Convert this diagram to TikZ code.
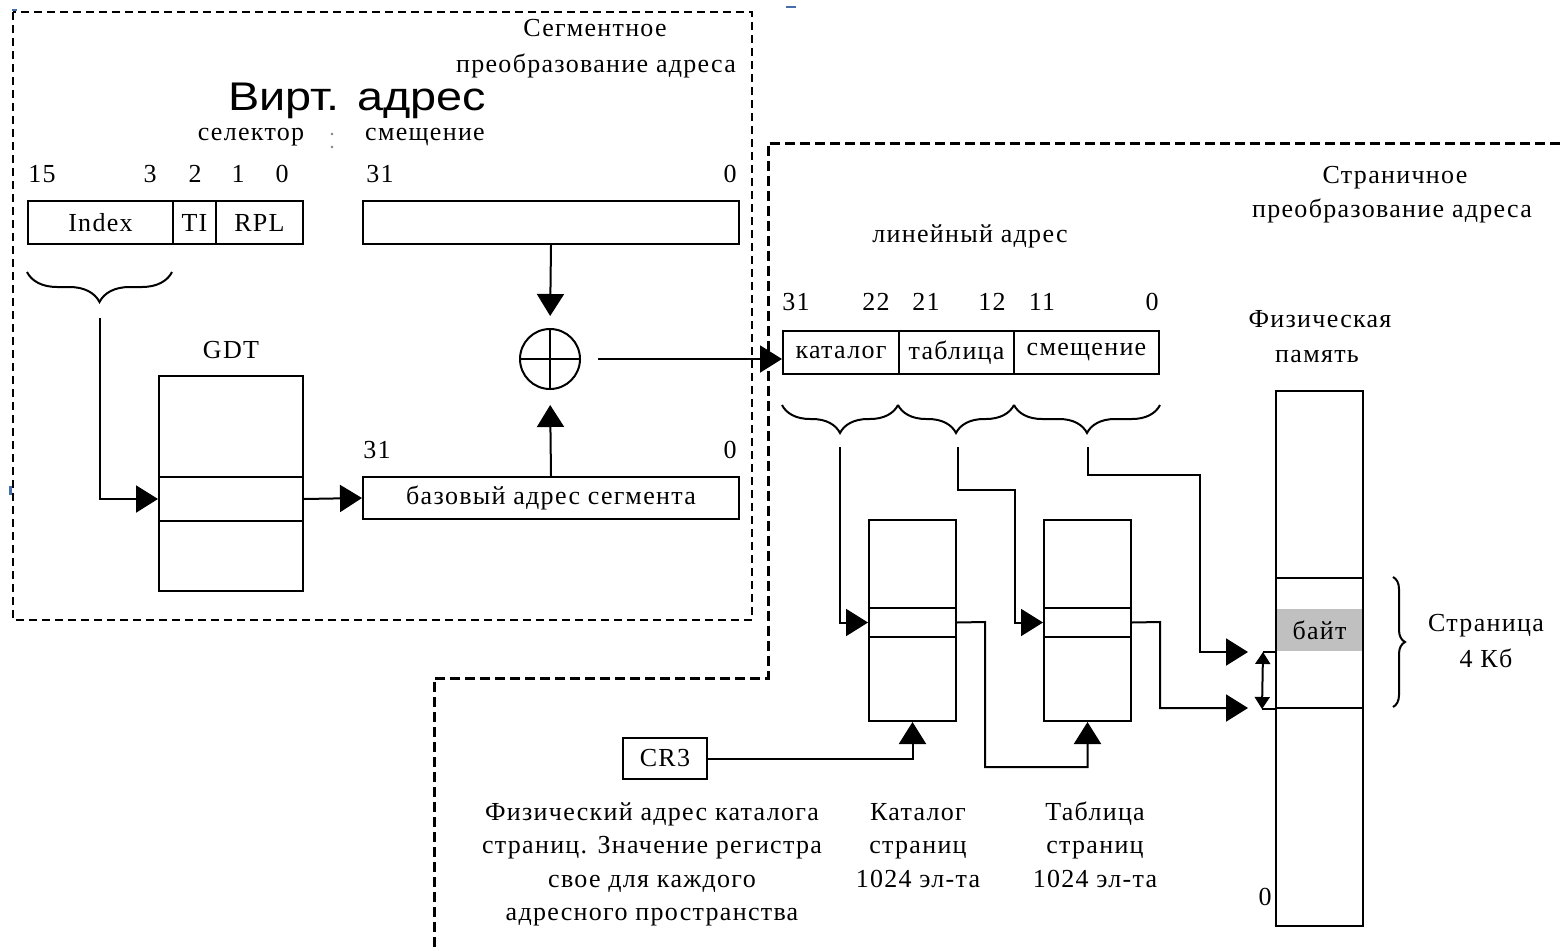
\documentclass[tikz,border=0pt]{standalone}
\usepackage{fontspec}
\setmainfont{Liberation Serif}[LetterSpace=5.0]
\newfontfamily\arialf{Liberation Sans}
\usetikzlibrary{arrows.meta,decorations.pathreplacing,calc}
\definecolor{bytegray}{RGB}{192,192,192}
\definecolor{markblue}{RGB}{70,110,170}
\begin{document}
\begin{tikzpicture}[x=1pt,y=-1pt,
  box/.style={draw, line width=2pt, inner sep=0pt, anchor=north west, font=\fontsize{26}{30}\selectfont},
  lbl/.style={inner sep=0pt, anchor=base, font=\fontsize{26}{30}\selectfont},
  conn/.style={line width=2pt},
  arr/.style={line width=2pt, -{Triangle[length=22pt,width=27pt]}},
  dblarr/.style={line width=2pt, {Triangle[length=12pt,width=15pt]}-{Triangle[length=12pt,width=15pt]}},
  segline/.style={line width=1.5pt, dash pattern=on 8pt off 5pt},
  pagline/.style={line width=3pt, dash pattern=on 10pt off 5pt},
  bracedeco/.style={line width=2pt, decorate, decoration={brace, amplitude=#1}},
]
\useasboundingbox (0,0) rectangle (1560,950);
\fill[white] (0,0) rectangle (1560,950);

% dashed regions
\draw[segline] (13,12) rectangle (752,620);
\draw[pagline] (1560,143) -- (768,143) -- (768,678) -- (434,678) -- (434,950);
\fill[markblue] (12,9) rectangle (17,11);
\fill[markblue] (9,486) rectangle (12,495);
\fill[markblue] (786,6) rectangle (796,8);

% segment part texts
\node[lbl] (segt1) at (595,37) {Сегментное};
\node[lbl] (segt2) at (596,72) {преобразование адреса};
\node[inner sep=0pt, anchor=base, font=\arialf\fontsize{40}{44}\selectfont] (virt) at (357,110) {\scalebox{1.17}[1]{Вирт. адрес}};
\node[lbl] (sel) at (251,140) {селектор};
\node[lbl] (smq) at (425,140) {смещение};
\fill[gray] (332,134) circle (1.3);
\fill[gray] (332,147) circle (1.3);

\node[lbl] (n15) at (42,182) {15};
\node[lbl] (n3) at (150,182) {3};
\node[lbl] (n2) at (195,182) {2};
\node[lbl] (n1) at (238,182) {1};
\node[lbl] (n0) at (282,182) {0};
\node[lbl] (n31) at (380,182) {31};
\node[lbl] (n0b) at (730,182) {0};

\node[box, minimum width=145pt, minimum height=43pt] (idx) at (27,200) {Index};
\node[box, minimum width=43pt, minimum height=43pt] (ti) at (172,200) {TI};
\node[box, minimum width=87pt, minimum height=43pt] (rpl) at (215,200) {RPL};
\node[box, minimum width=376pt, minimum height=43pt] (off) at (362,200) {};

\draw[bracedeco=30pt] (172,272) -- (27,272);
\coordinate (idxtip) at (100,318);

\node[lbl] (gdtl) at (231,358) {GDT};
\node[box, minimum width=144pt, minimum height=215pt] (gdt) at (158,375) {};
\node[box, minimum width=144pt, minimum height=44pt] (gdtrow) at (158,476) {};

\node[lbl] (b31) at (377,458) {31};
\node[lbl] (b0) at (730,458) {0};
\node[box, minimum width=376pt, minimum height=42pt] (base) at (362,476) {базовый адрес сегмента};

\node[draw, circle, line width=2pt, minimum size=60pt, inner sep=0pt] (plus) at (550,359) {};
\draw[conn] (plus.north) -- (plus.south);
\draw[conn] (plus.west) -- (plus.east);

\draw[arr] (idxtip) |- (gdtrow.west);
\draw[arr] (gdtrow.east) -- (base.west);
\draw[arr, shorten >=12pt] (off.south) -- (plus.north);
\draw[arr, shorten >=15pt] (base.north) -- (plus.south);

% paging part
\node[lbl] (pagt1) at (1395,183) {Страничное};
\node[lbl] (pagt2) at (1392,217) {преобразование адреса};
\node[lbl] (lint) at (970,242) {линейный адрес};

\node[lbl] (l31) at (796,310) {31};
\node[lbl] (l22) at (876,310) {22};
\node[lbl] (l21) at (926,310) {21};
\node[lbl] (l12) at (992,310) {12};
\node[lbl] (l11) at (1042,310) {11};
\node[lbl] (l0) at (1152,310) {0};

\node[box, minimum width=116pt, minimum height=43pt] (cat) at (782,330) {каталог};
\node[box, minimum width=115pt, minimum height=43pt] (tab) at (898,330) {таблица};
\node[box, minimum width=145pt, minimum height=43pt] (sm) at (1013,330) {смещение};

\draw[arr, shorten <=17pt] (plus.east) -- (plus.east -| cat.west);

\draw[bracedeco=28pt] (898,405) -- (782,405);
\draw[bracedeco=28pt] (1014,405) -- (898,405);
\draw[bracedeco=28pt] (1160,405) -- (1014,405);
\coordinate (c1) at (840,447);
\coordinate (c2) at (958,447);
\coordinate (c3) at (1088,447);

\node[box, minimum width=87pt, minimum height=201pt] (pdir) at (868,519) {};
\node[box, minimum width=87pt, minimum height=29pt] (pdirrow) at (868,607) {};
\node[box, minimum width=87pt, minimum height=201pt] (ptab) at (1043,519) {};
\node[box, minimum width=87pt, minimum height=29pt] (ptabrow) at (1043,607) {};

\node[box, minimum width=84pt, minimum height=41pt] (cr3) at (622,737) {CR3};

\node[lbl] (fiz1) at (1320,327) {Физическая};
\node[lbl] (fiz2) at (1317,362) {память};
\node[box, minimum width=87pt, minimum height=535pt] (mem) at (1275,390) {};
\node[box, minimum width=87pt, minimum height=130pt] (page) at (1275,577) {};
\node[box, draw=none, fill=bytegray, minimum width=85pt, minimum height=42pt] (byte) at (1276,608) {байт};
\node[lbl] (z0) at (1265,905) {0};

\coordinate (m1) at (1248,652);
\coordinate (m2) at (1248,708);

\draw[arr] (c1) |- (pdirrow.west);
\draw[arr] (c2) |- (1015,490) |- (ptabrow.west);
\draw[arr] (c3) |- (1200,475) |- (m1);
\draw[arr] (ptabrow.east) -- (1160,622) |- (m2);
\draw[arr] (cr3.east) -| (pdir.south);
\draw[arr] (pdirrow.east) -- (985,622) -- (985,767) -| (ptab.south);

\draw[conn] (byte.south west) -- ++(-13,0) coordinate (d1);
\draw[conn] (page.south west) -- ++(-13,0) coordinate (d2);
\draw[dblarr] (d1) -- (d2);

\draw[bracedeco=12pt] (1393,577) -- (1393,707);
\node[lbl] (strn1) at (1486,631) {Страница};
\node[lbl] (strn2) at (1486,667) {4 Кб};

\node[lbl] (cr3t1) at (652,820) {Физический адрес каталога};
\node[lbl] (cr3t2) at (652,853) {страниц. Значение регистра};
\node[lbl] (cr3t3) at (652,887) {свое для каждого};
\node[lbl] (cr3t4) at (652,920) {адресного пространства};
\node[lbl] (katt1) at (918,820) {Каталог};
\node[lbl] (katt2) at (918,853) {страниц};
\node[lbl] (katt3) at (918,887) {1024 эл-та};
\node[lbl] (tabt1) at (1095,820) {Таблица};
\node[lbl] (tabt2) at (1095,853) {страниц};
\node[lbl] (tabt3) at (1095,887) {1024 эл-та};
\end{tikzpicture}
\end{document}
